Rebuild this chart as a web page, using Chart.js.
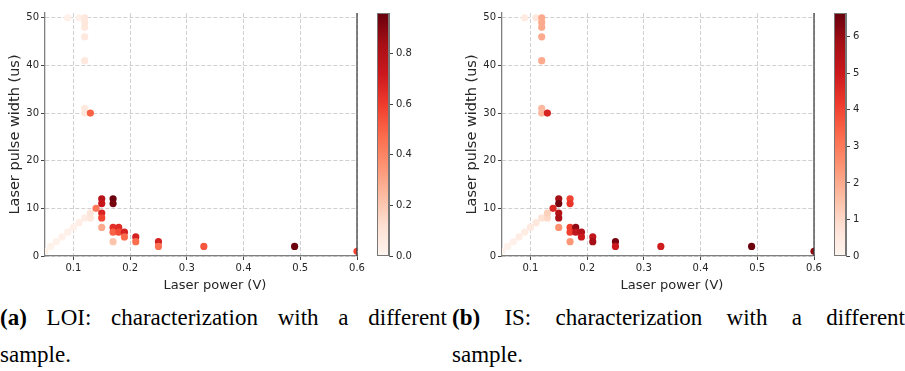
<!DOCTYPE html>
<html>
<head>
<meta charset="utf-8">
<script src="https://cdn.jsdelivr.net/npm/chart.js@4/dist/chart.umd.min.js"></script>
<style>
  html, body { margin: 0; padding: 0; background: #fff; }
  #wrap { position: relative; width: 905px; height: 371px; overflow: hidden; }
  canvas { position: absolute; top: 0; }
  .cap { position: absolute; font-family: "Liberation Serif", serif; font-size: 23px; color: #000; white-space: nowrap; line-height: 24px; }
  .just { text-align: justify; text-align-last: justify; white-space: normal; }
</style>
</head>
<body>
<div id="wrap">
  <canvas id="mainA" width="370" height="300" style="left:0px"></canvas>
  <canvas id="cbA" width="50" height="300" style="left:370px"></canvas>
  <canvas id="mainB" width="370" height="300" style="left:457px"></canvas>
  <canvas id="cbB" width="50" height="300" style="left:827px"></canvas>
  <div class="cap just" style="left:0px; top:306px; width:447px;"><b>(a)</b> LOI: characterization with a different</div>
  <div class="cap" style="left:0px; top:343px;">sample.</div>
  <div class="cap just" style="left:452px; top:306px; width:453px;"><b>(b)</b> IS: characterization with a different</div>
  <div class="cap" style="left:452px; top:343px;">sample.</div>
</div>
<script>
// ---- data ----
const laserPower = [0.05, 0.06, 0.07, 0.08, 0.09, 0.10, 0.11, 0.12, 0.13, 0.13,
                    0.09, 0.11, 0.12, 0.12, 0.12, 0.12, 0.12, 0.12, 0.12, 0.13,
                    0.14, 0.15, 0.15, 0.15, 0.15, 0.15, 0.17, 0.17, 0.17, 0.17, 0.17,
                    0.18, 0.18, 0.19, 0.19, 0.21, 0.21, 0.25, 0.25, 0.33, 0.49, 0.60];
const pulseWidth = [1, 2, 3, 4, 5, 6, 7, 8, 8, 9,
                    50, 50, 50, 49, 48, 46, 41, 31, 30, 30,
                    10, 12, 11, 9, 8, 6, 12, 11, 6, 5, 3,
                    6, 5, 5, 4, 4, 3, 3, 2, 2, 2, 1];
const loiValues = [0.02, 0.02, 0.02, 0.03, 0.03, 0.03, 0.04, 0.05, 0.08, 0.09,
                   0.03, 0.03, 0.08, 0.08, 0.08, 0.08, 0.07, 0.07, 0.08, 0.50,
                   0.44, 0.78, 0.73, 0.68, 0.58, 0.29, 0.95, 0.93, 0.64, 0.50, 0.21,
                   0.65, 0.56, 0.69, 0.48, 0.69, 0.47, 0.69, 0.46, 0.53, 0.95, 0.58];
const isValues = [0.10, 0.15, 0.20, 0.30, 0.35, 0.45, 0.55, 0.70, 1.00, 1.20,
                  0.40, 0.50, 2.0, 2.0, 2.0, 2.0, 2.0, 1.7, 1.7, 4.7,
                  4.6, 5.8, 6.5, 5.45, 5.7, 2.45, 4.0, 4.3, 4.1, 4.1, 2.4,
                  6.1, 5.2, 5.5, 5.0, 5.2, 5.8, 6.4, 5.0, 4.9, 6.6, 6.1];
const loiMax = 0.96;
const isMax = 6.65;
const xTicks = [0.1, 0.2, 0.3, 0.4, 0.5, 0.6];
const yTicks = [0, 10, 20, 30, 40, 50];
const loiTicks = [0.0, 0.2, 0.4, 0.6, 0.8];
const isTicks = [0, 1, 2, 3, 4, 5, 6];
const xTitle = "Laser power (V)";
const yTitle = "Laser pulse width (us)";

// matplotlib "Reds"
const reds = [[255,245,240],[254,224,210],[252,187,161],[252,146,114],[251,106,74],
              [239,59,44],[203,24,29],[165,15,21],[103,0,13]];
function redsColor(f) {
  f = Math.max(0, Math.min(1, f));
  const p = f * (reds.length - 1);
  const i = Math.min(Math.floor(p), reds.length - 2);
  const t = p - i;
  const c = reds[i].map((v, k) => Math.round(v + (reds[i+1][k] - v) * t));
  return `rgb(${c[0]},${c[1]},${c[2]})`;
}

const tickFont = { family: "DejaVu Sans", size: 10 };
const txtColor = "#262626";

const decor = {
  id: 'decor',
  afterDraw(chart) {
    const { ctx, chartArea: a } = chart;
    ctx.save();
    // right spine
    ctx.strokeStyle = '#333';
    ctx.lineWidth = 1.2;
    ctx.beginPath();
    ctx.moveTo(a.right, a.top);
    ctx.lineTo(a.right, a.bottom);
    ctx.stroke();
    // x-axis label
    ctx.fillStyle = txtColor;
    ctx.font = '13px "DejaVu Sans"';
    ctx.textAlign = 'center';
    ctx.textBaseline = 'middle';
    ctx.fillText(xTitle, (a.left + a.right) / 2 + 14, a.bottom + 30);
    ctx.restore();
  }
};

function makeMain(id, vals, vmax) {
  const pts = laserPower.map((x, i) => ({ x, y: pulseWidth[i] }));
  const cols = vals.map(v => redsColor(v / vmax));
  new Chart(document.getElementById(id), {
    type: 'scatter',
    data: { datasets: [{ data: pts, pointBackgroundColor: cols, pointBorderWidth: 0,
                         pointRadius: 3.6, pointHoverRadius: 3.6 }] },
    options: {
      responsive: false, animation: false, events: [],
      layout: { padding: { left: 0, right: 13, top: 13, bottom: 0 } },
      plugins: { legend: { display: false }, tooltip: { enabled: false } },
      scales: {
        x: {
          type: 'linear', min: 0.05, max: 0.6,
          afterBuildTicks: s => { s.ticks = xTicks.map(v => ({ value: v })); },
          afterFit: s => { s.height = 44; },
          ticks: { font: tickFont, color: txtColor, padding: 2, maxRotation: 0,
                   callback: v => Number(v).toFixed(1) },
          grid: { color: '#c4c4c4', lineWidth: 0.8, tickLength: 4, tickColor: '#444',
                  tickWidth: 1, tickBorderDash: [] },
          border: { display: true, color: '#7f7f7f', width: 1.3, dash: [4, 2] }
        },
        y: {
          type: 'linear', min: 0, max: 51,
          afterBuildTicks: s => { s.ticks = yTicks.map(v => ({ value: v })); },
          afterFit: s => { s.width = 45; },
          ticks: { font: tickFont, color: txtColor, padding: 2, callback: v => String(v) },
          grid: { color: '#c4c4c4', lineWidth: 0.8, tickLength: 4, tickColor: '#444',
                  tickWidth: 1, tickBorderDash: [] },
          border: { display: true, color: '#7f7f7f', width: 1.3, dash: [4, 2] },
          title: { display: true, text: yTitle, font: { family: "DejaVu Sans", size: 14.5 },
                   color: txtColor, padding: { top: 7, bottom: 0 } }
        }
      }
    },
    plugins: [decor]
  });
}

function makeBar(id, vmax, ticks, fmt) {
  const grad = {
    id: 'grad',
    beforeDatasetsDraw(chart) {
      const { ctx, chartArea: a } = chart;
      const ys = chart.scales.y;
      const g = ctx.createLinearGradient(0, ys.getPixelForValue(0), 0, ys.getPixelForValue(vmax));
      reds.forEach((c, i) => g.addColorStop(i / (reds.length - 1), `rgb(${c[0]},${c[1]},${c[2]})`));
      ctx.save();
      ctx.fillStyle = g;
      ctx.fillRect(a.left, a.top, a.right - a.left, a.bottom - a.top);
      ctx.strokeStyle = '#777';
      ctx.lineWidth = 1;
      ctx.strokeRect(a.left + 0.5, a.top + 0.5, a.right - a.left - 1, a.bottom - a.top - 1);
      ctx.restore();
    }
  };
  new Chart(document.getElementById(id), {
    type: 'scatter',
    data: { datasets: [] },
    options: {
      responsive: false, animation: false, events: [],
      layout: { padding: { left: 7, right: 0, top: 13, bottom: 44 } },
      plugins: { legend: { display: false }, tooltip: { enabled: false } },
      scales: {
        x: { display: false, min: 0, max: 1 },
        y: {
          position: 'right', min: 0, max: vmax,
          afterBuildTicks: s => { s.ticks = ticks.map(v => ({ value: v })); },
          afterFit: s => { s.width = 31; },
          ticks: { font: tickFont, color: txtColor, padding: 3, callback: fmt },
          grid: { drawOnChartArea: false, tickLength: 4, tickColor: '#444', tickWidth: 1 },
          border: { display: true, color: '#777', width: 1 }
        }
      }
    },
    plugins: [grad]
  });
}

makeMain('mainA', loiValues, loiMax);
makeBar('cbA', loiMax, loiTicks, v => Number(v).toFixed(1));
makeMain('mainB', isValues, isMax);
makeBar('cbB', isMax, isTicks, v => String(v));
</script>
</body>
</html>
